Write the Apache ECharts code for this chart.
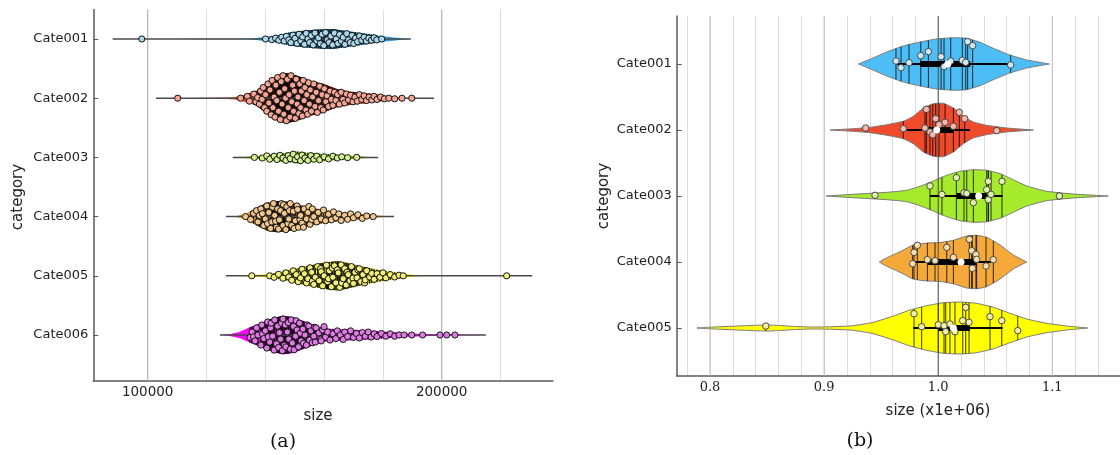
<!DOCTYPE html>
<html><head><meta charset="utf-8">
<script src="https://cdn.jsdelivr.net/npm/echarts@6/dist/echarts.min.js"></script>
<style>html,body{margin:0;padding:0;background:#fff}#c{width:1120px;height:455px}</style>
</head><body><div id="c"></div>
<script>
// ---------------- Panel (a) data (size in thousands) ----------------
const categoriesA = ['Cate001','Cate002','Cate003','Cate004','Cate005','Cate006'];
const tickLabelsA = [100, 200];
const gridTicksA = [100, 120, 140, 160, 180, 200, 220];
const majorLinesA = [100, 200];
const rangeA = [[88.1,189.5],[102.8,197.4],[128.9,178.4],[126.6,183.8],[126.6,230.8],[124.6,215.0]];
const violinA_pos = [
  [88.1,130,135.9,140.5,145.0,148.4,152.9,158.6,163.1,167.7,173.3,179.0,184.7,189.2],
  [102.8,129.1,133.7,137.1,139.3,142.2,145.0,147.3,150.7,155.2,159.7,164.3,168.8,173.3,177.9,182.4,189.2,197.4],
  [128.9,135.9,141.6,148.4,150.7,155.2,162.0,168.8,174.5,178.4],
  [126.6,130.3,133.7,137.1,140.5,143.9,147.3,150.7,155.2,159.7,164.3,168.8,173.3,177.9,183.8],
  [126.6,137.1,142.7,148.4,154.1,159.7,164.3,167.7,172.2,177.9,183.5,189.2,193.7,230.8],
  [124.6,128.0,131.4,134.8,137.5,139.3,142.7,146.1,149.5,154.1,159.7,166.5,173.3,180.1,188.1,199.4,215.0]
];
const violinA_width = [
  [0,0.004,0.012,0.039,0.068,0.113,0.140,0.164,0.169,0.135,0.096,0.056,0.022,0],
  [0,0.017,0.073,0.130,0.215,0.326,0.400,0.422,0.383,0.299,0.242,0.157,0.113,0.090,0.063,0.034,0.005,0],
  [0,0.022,0.051,0.084,0.101,0.073,0.051,0.034,0.012,0],
  [0,0.012,0.056,0.152,0.236,0.265,0.253,0.208,0.152,0.113,0.084,0.063,0.039,0.017,0],
  [0,0.017,0.039,0.096,0.164,0.220,0.248,0.220,0.164,0.106,0.063,0.022,0.005,0],
  [0,0.017,0.056,0.130,0.180,0.215,0.287,0.326,0.299,0.215,0.113,0.095,0.080,0.060,0.030,0.012,0]
];
const pointsA1 = [[98.0,0],[140.1,0],[142.2,0.01],[143.5,-0.015],[144.6,0.02],[145.6,-0.03],[146.4,0.035],[147.2,-0.045],[148.0,0.015],[148.7,0.06],[149.4,-0.065],[150.1,-0.01],[150.8,0.075],[151.5,-0.08],[152.1,0.03],[152.7,-0.035],[153.3,0.09],[153.9,-0.095],[154.5,0.0],[155.1,0.06],[155.7,-0.06],[156.3,0.1],[156.9,-0.1],[157.5,0.03],[158.1,-0.02],[158.7,0.08],[159.3,-0.08],[159.9,0.11],[160.5,-0.11],[161.1,0.015],[161.7,0.06],[162.3,-0.05],[162.9,0.1],[163.5,-0.1],[164.1,0.0],[164.7,0.075],[165.3,-0.075],[165.9,0.035],[166.5,-0.03],[167.1,0.09],[167.7,-0.09],[168.3,0.015],[168.9,0.06],[169.5,-0.06],[170.1,0.075],[170.7,-0.015],[171.4,0.045],[172.1,-0.05],[172.8,0.02],[173.6,-0.03],[174.4,0.035],[175.2,-0.015],[176.1,0.02],[177.0,-0.02],[177.9,0.015],[179.6,0]];
const pointsA2 = [[110.2,0],[131.6,0],[133.9,-0.03],[134.6,0.05],[136.1,-0.07],[136.8,0.06],[137.4,-0.01],[138.0,0.10],[138.4,-0.12],[138.9,0.02],[139.3,-0.18],[139.7,0.16],[140.1,-0.06],[140.5,0.22],[140.9,-0.24],[141.2,0.08],[141.6,-0.14],[142.0,0.28],[142.3,-0.3],[142.6,0.16],[143.0,-0.02],[143.3,0.32],[143.6,-0.22],[143.9,0.04],[144.2,-0.35],[144.5,0.22],[144.8,-0.1],[145.1,0.36],[145.4,-0.28],[145.7,0.1],[146.0,-0.38],[146.3,0.27],[146.6,-0.16],[146.9,0.0],[147.2,0.38],[147.5,-0.32],[147.8,0.16],[148.1,-0.06],[148.4,0.32],[148.7,-0.38],[149.0,0.06],[149.3,-0.22],[149.6,0.22],[149.9,-0.12],[150.2,0.34],[150.5,-0.32],[150.8,0.1],[151.1,-0.02],[151.4,0.26],[151.7,-0.24],[152.0,0.16],[152.3,-0.12],[152.6,0.3],[152.9,-0.3],[153.2,0.04],[153.5,-0.18],[153.8,0.2],[154.1,-0.06],[154.4,0.27],[154.7,-0.26],[155.0,0.1],[155.3,-0.14],[155.7,0.22],[156.1,-0.02],[156.5,-0.24],[156.9,0.14],[157.3,-0.1],[157.7,0.24],[158.1,0.04],[158.5,-0.2],[158.9,0.16],[159.3,-0.06],[159.7,0.2],[160.1,-0.16],[160.6,0.06],[161.0,-0.04],[161.5,0.14],[162.0,-0.12],[162.5,0.02],[163.0,0.12],[163.5,-0.1],[164.0,0.04],[164.6,-0.06],[165.2,0.1],[165.8,-0.1],[166.4,0.02],[167.0,0.08],[167.6,-0.07],[168.3,0.03],[169.0,-0.05],[169.8,0.06],[170.5,-0.02],[171.3,0.05],[172.0,-0.06],[172.8,0.02],[173.6,-0.04],[174.4,0.04],[175.3,-0.02],[176.2,0.03],[177.0,-0.03],[178.0,0.02],[179.2,-0.02],[180.5,0.01],[182.0,0],[184.0,0.01],[186.5,0],[189.8,0]];
const pointsA3 = [[136.3,0],[139,0.01],[140.5,-0.025],[141.5,0.03],[143,-0.02],[144,0.035],[145,-0.035],[146,0.01],[147,0.05],[147.8,-0.03],[148.5,0.02],[149.5,-0.055],[150.2,0.04],[151,-0.01],[152,0.055],[152.5,-0.04],[153.5,0.01],[154.5,0.05],[155.5,-0.03],[156.5,0.03],[157.5,-0.02],[158.5,0.04],[160,-0.01],[161.5,0.025],[163,-0.02],[164.5,0.01],[166,-0.01],[168,0.005],[171.1,0]];
const pointsA4 = [[133.3,0],[135,0.05],[136,-0.055],[137,-0.1],[137.5,0.09],[138,-0.02],[138.5,-0.13],[139,-0.05],[139.5,0.15],[140,0.04],[140.5,-0.18],[140.8,0.12],[141.2,-0.07],[141.8,0.2],[142.2,0.09],[142.5,-0.16],[142.8,-0.22],[143.2,-0.02],[143.5,0.08],[143.8,0.18],[144.2,-0.13],[144.5,0.21],[144.8,0.055],[145.2,-0.1],[145.5,-0.22],[146,0.15],[146.2,-0.2],[146.5,-0.055],[147,0.22],[147.3,-0.165],[147.7,0.12],[148,0.04],[148.2,-0.1],[148.5,-0.22],[149,0.15],[149.5,-0.09],[149.8,0.2],[150.2,0.07],[150.8,-0.18],[151,-0.12],[151.3,0.18],[151.8,0.05],[152,-0.02],[152.5,0.11],[153,0.18],[153.2,-0.13],[154,0.04],[154.5,-0.07],[154.8,-0.17],[155.2,0.13],[155.8,0.05],[156,-0.13],[156.5,0.0],[157.5,0.09],[158,-0.07],[159,0.04],[159.8,-0.11],[160.5,0.07],[161.5,-0.04],[162.5,0.055],[163.2,-0.08],[164,0.02],[165,-0.045],[165.8,0.065],[167,-0.02],[168,0.045],[169,-0.045],[170,0.02],[171.5,-0.03],[173,0.03],[174.5,-0.01],[176.7,0]];
const pointsA5 = [[135.4,0],[141.5,0.0],[143,0.025],[144.5,-0.025],[146,0.04],[147,-0.05],[148,0.02],[149,0.075],[149.5,-0.085],[150.5,-0.02],[151.2,0.1],[152,0.035],[152.5,-0.11],[153.3,-0.035],[154,0.12],[154.5,0.05],[155.2,-0.135],[155.8,-0.06],[156,0.09],[156.5,0.145],[157,0.025],[157.8,-0.155],[158.3,0.085],[158.8,-0.12],[159,-0.07],[159.5,0.17],[160,0.0],[160.8,-0.18],[161.2,0.1],[161.5,0.05],[161.8,-0.085],[162.5,0.185],[162.8,-0.13],[163,0.025],[163.5,-0.17],[164,0.12],[164.5,-0.1],[164.8,-0.05],[165.3,0.195],[165.8,-0.185],[166,0.12],[166.5,0.05],[167,-0.12],[167.5,0.155],[167.8,-0.06],[168.2,-0.02],[168.8,0.085],[169.3,-0.155],[169.8,0.04],[170,0.13],[170.5,-0.06],[171.2,0.035],[171.5,-0.1],[172,-0.12],[172.5,0.1],[173.2,-0.02],[173.8,0.12],[174,0.07],[174.5,-0.085],[175.5,0.02],[176.2,-0.04],[177,0.06],[178,-0.035],[179,0.025],[180,-0.05],[181,0.035],[182.5,-0.02],[184,0.02],[185.5,-0.01],[186.9,0],[222.1,0]];
const pointsA6 = [[134.8,0.04],[135.5,-0.05],[136,0.03],[136.5,0.1],[137,-0.12],[137.5,0.0],[138.5,0.17],[138.8,-0.17],[139,-0.02],[139.5,0.06],[140,-0.07],[140.5,0.22],[140.8,-0.22],[141,0.03],[141.5,0.12],[141.8,-0.12],[142,-0.2],[142.5,0.02],[143,0.255],[143.2,-0.255],[143.8,0.15],[144.2,-0.15],[144.5,0.21],[144.8,-0.04],[145.2,0.07],[145.5,-0.2],[145.8,0.265],[146,-0.27],[146.5,0.17],[146.8,-0.17],[147,0.2],[147.5,-0.05],[147.8,-0.21],[148,0.07],[148.5,0.24],[148.8,-0.255],[149.2,0.135],[149.6,-0.145],[149.8,0.25],[150.3,0.02],[150.5,-0.24],[150.8,-0.085],[151.3,0.2],[151.6,-0.2],[151.9,-0.03],[152.2,0.1],[152.8,-0.1],[153,0.14],[153.5,0.0],[154,0.17],[154.3,-0.17],[154.8,-0.15],[155,0.085],[155.5,-0.07],[156,0.13],[156.5,0.02],[156.8,-0.13],[157,0.12],[157.3,-0.12],[158.2,-0.035],[158.8,0.07],[159,0.1],[159.5,-0.085],[160,-0.14],[160.5,0.035],[161.2,-0.05],[162,0.085],[163,-0.02],[164,0.06],[164.5,-0.07],[165.5,0.0],[166.5,0.075],[167,-0.05],[168,0.025],[169,-0.07],[170,0.04],[171,-0.025],[172,0.05],[173,-0.04],[174,0.02],[175,-0.05],[176,0.035],[177,-0.02],[178,0.025],[179.5,-0.025],[181,0.02],[182.5,-0.02],[184,0.02],[185.5,0],[187.2,0],[189.8,0],[193.5,0],[199.4,0],[201.7,0],[204.5,0]];
const pointsA = [pointsA1, pointsA2, pointsA3, pointsA4, pointsA5, pointsA6];

// ---------------- Panel (b) data (size x1e+06) ----------------
const categoriesB = ['Cate001','Cate002','Cate003','Cate004','Cate005'];
const tickLabelsB = [0.8, 0.9, 1.0, 1.1];
const gridTicksB = [0.78,0.80,0.82,0.84,0.86,0.88,0.90,0.92,0.94,0.96,0.98,1.00,1.02,1.04,1.06,1.08,1.10,1.12,1.14,1.16];
const mediumLinesB = [0.8, 0.9, 1.1];
const darkLinesB = [1.0];
const violinB_pos = [
  [0.9300,0.9402,0.9549,0.9694,0.9840,0.9987,1.0133,1.0250,1.0366,1.0483,1.0629,1.0776,1.0974],
  [0.9052,0.9256,0.9402,0.9549,0.9694,0.9782,0.9870,0.9957,1.0045,1.0133,1.0220,1.0308,1.0425,1.0600,1.0834],
  [0.9017,0.9256,0.9549,0.9724,0.9840,0.9957,1.0075,1.0191,1.0308,1.0425,1.0542,1.0658,1.0776,1.0951,1.1184,1.1491],
  [0.9484,0.9549,0.9665,0.9782,0.9899,1.0016,1.0133,1.0250,1.0337,1.0425,1.0542,1.0658,1.0776],
  [0.7886,0.80,0.82,0.84,0.85,0.86,0.875,0.89,0.9056,0.9256,0.9431,0.9607,0.9753,0.9899,1.0045,1.0191,1.0337,1.0483,1.0629,1.0776,1.0951,1.1126,1.1310]
];
const violinB_width = [
  [0,0.071,0.182,0.273,0.333,0.379,0.398,0.389,0.329,0.238,0.136,0.061,0],
  [0,0.020,0.041,0.080,0.132,0.208,0.333,0.398,0.405,0.333,0.208,0.121,0.071,0.030,0],
  [0,0.026,0.056,0.086,0.147,0.227,0.314,0.374,0.398,0.389,0.338,0.247,0.152,0.071,0.030,0],
  [0,0.065,0.156,0.258,0.288,0.295,0.329,0.394,0.405,0.374,0.258,0.106,0],
  [0,0.012,0.027,0.042,0.045,0.039,0.023,0.014,0.018,0.035,0.086,0.182,0.273,0.338,0.383,0.394,0.374,0.314,0.223,0.136,0.071,0.030,0]
];
// [whisker low, q1, median, q3, whisker high]
const boxB = [
  [0.9636,0.9840,1.0084,1.0280,1.0634],
  [0.9694,0.9899,0.9987,1.0133,1.0278],
  [0.9928,1.0162,1.0355,1.0425,1.0565],
  [0.9776,0.9905,1.0200,1.0337,1.0489],
  [0.9782,1.0001,1.0133,1.0279,1.0565]
];
const pointsB1 = [[0.9630,-0.045],[0.9674,0.056],[0.9744,-0.02],[0.9847,-0.126],[0.9914,-0.187],[1.0025,-0.111],[1.0051,0.04],[1.0110,-0.045],[1.0211,-0.056],[1.0241,-0.025],[1.0258,-0.338],[1.0302,-0.278],[1.0635,0.015]];
const pointsB2 = [[0.9364,-0.03],[0.9694,-0.02],[0.9884,-0.03],[0.9896,-0.313],[0.9928,0.03],[0.9952,0.071],[0.9978,-0.172],[1.0007,-0.081],[1.0060,-0.116],[1.0133,-0.056],[1.0185,-0.268],[1.0232,-0.172],[1.0513,0.01]];
const pointsB3 = [[0.9446,-0.01],[0.9928,-0.152],[1.0033,-0.025],[1.0159,-0.278],[1.0226,-0.05],[1.0250,-0.04],[1.0308,0.101],[1.0425,-0.096],[1.0439,-0.222],[1.0439,0.056],[1.0463,-0.025],[1.0559,-0.222],[1.1062,0]];
const pointsB4 = [[0.9776,0.025],[0.9788,-0.146],[0.9817,-0.253],[0.9905,-0.035],[0.9972,-0.02],[1.0075,-0.222],[1.0133,-0.071],[1.0273,-0.343],[1.0293,-0.172],[1.0299,0.096],[1.0331,-0.116],[1.0337,-0.04],[1.0419,0.061],[1.0483,-0.035]];
const pointsB5 = [[0.8489,-0.03],[0.9788,-0.217],[0.9855,-0.02],[1.0001,-0.05],[1.0051,-0.035],[1.0066,0.056],[1.0103,-0.061],[1.0147,0.056],[1.0215,-0.111],[1.0241,-0.313],[1.0270,-0.086],[1.0454,-0.172],[1.0557,-0.111],[1.0697,0.04]];
const pointsB = [pointsB1, pointsB2, pointsB3, pointsB4, pointsB5];

// ---------------- styles ----------------
const violinFillA = ['#2f9ed8','#ee3b22','#93d62a','#ef9f1f','#e6e600','#ff00ff'];
const pointFillA = ['#a9d8ec','#f4a595','#d3f08e','#f0c78e','#f2f07a','#e07be6'];
const violinFillB = ['#4dbef5','#ef4a2c','#a5ea2b','#f4a93a','#ffff00'];
const pointFillB = ['#cfe9f3','#f4b9aa','#e2f2ae','#f3deb0','#f4f0a2'];

const AX = {xMin:81.5, xMax:237.86, yMin:0.5, yMax:6.772};
const BX = {xMin:0.7708, xMax:1.1652, yMin:0.273, yMax:5.727};
const SANS = 'DejaVu Sans';
const SERIF = 'DejaVu Serif';
const AXIS_COLOR = '#5a5a5a';

function widthAt(vs, ws, v) {
  if (v <= vs[0]) return ws[0];
  for (let k = 0; k < vs.length - 1; k++) {
    if (v <= vs[k+1]) return ws[k] + (ws[k+1]-ws[k]) * (v - vs[k]) / (vs[k+1]-vs[k]);
  }
  return ws[ws.length-1];
}
function violinRender(pos, wid, fills, stroke, lw) {
  return function (params, api) {
    const i = params.dataIndex, c = i + 1;
    const vs = pos[i], ws = wid[i], pts = [];
    for (let k = 0; k < vs.length; k++) pts.push(api.coord([vs[k], c - ws[k]]));
    for (let k = vs.length - 1; k >= 0; k--) pts.push(api.coord([vs[k], c + ws[k]]));
    return {type:'polygon', shape:{points:pts, smooth:0.15},
      style:{fill:fills[i], stroke:stroke || 'none', lineWidth:lw || 0}};
  };
}
function rugRender(points, pos, wid, color, lw) {
  return function (params, api) {
    const i = params.dataIndex, c = i + 1;
    const children = points[i].map(function (p) {
      const w = widthAt(pos[i], wid[i], p[0]);
      const a = api.coord([p[0], c - w]), b = api.coord([p[0], c + w]);
      return {type:'line', shape:{x1:a[0], y1:a[1], x2:b[0], y2:b[1]}, style:{stroke:color, lineWidth:lw}};
    });
    return {type:'group', children:children};
  };
}
function whiskerRender(range, color, lw) {
  return function (params, api) {
    const i = params.dataIndex, c = i + 1;
    const a = api.coord([range[i][0], c]), b = api.coord([range[i][1], c]);
    return {type:'line', shape:{x1:a[0], y1:a[1], x2:b[0], y2:b[1]}, style:{stroke:color, lineWidth:lw}};
  };
}
function boxRender(params, api) {
  const i = params.dataIndex, c = i + 1;
  const q = boxB[i];
  const a = api.coord([q[0], c]), b = api.coord([q[4], c]);
  const r1 = api.coord([q[1], c]), r2 = api.coord([q[3], c]);
  return {type:'group', children:[
    {type:'line', shape:{x1:a[0], y1:a[1], x2:b[0], y2:b[1]}, style:{stroke:'#000', lineWidth:2}},
    {type:'rect', shape:{x:r1[0], y:r1[1]-3, width:r2[0]-r1[0], height:6}, style:{fill:'#000'}}
  ]};
}
function refLineRender(yMin, yMax, color, lw) {
  return function (params, api) {
    const v = api.value(0);
    const a = api.coord([v, yMin]), b = api.coord([v, yMax]);
    return {type:'line', shape:{x1:a[0], y1:a[1], x2:b[0], y2:b[1]}, style:{stroke:color, lineWidth:lw}};
  };
}

const series = [];
// Panel (a)
series.push({type:'custom', xAxisIndex:0, yAxisIndex:0, z:1, silent:true, data:majorLinesA.map(v=>[v]), renderItem:refLineRender(AX.yMin, AX.yMax, '#b4b4b4', 1.2)});
series.push({type:'custom', xAxisIndex:0, yAxisIndex:0, z:2, silent:true, data:categoriesA.map((n,i)=>[i+1]), renderItem:violinRender(violinA_pos, violinA_width, violinFillA)});
series.push({type:'custom', xAxisIndex:0, yAxisIndex:0, z:3, silent:true, data:categoriesA.map((n,i)=>[i+1]), renderItem:rugRender(pointsA, violinA_pos, violinA_width, 'rgba(0,0,0,0.9)', 1.3)});
series.push({type:'custom', xAxisIndex:0, yAxisIndex:0, z:4, silent:true, data:categoriesA.map((n,i)=>[i+1]), renderItem:whiskerRender(rangeA, '#4a4a4a', 1.5)});
categoriesA.forEach(function (n, i) {
  series.push({type:'scatter', name:n, xAxisIndex:0, yAxisIndex:0, z:5, silent:true, symbol:'circle', symbolSize:6.2,
    itemStyle:{color:pointFillA[i], borderColor:'#141414', borderWidth:1, opacity:1},
    data:pointsA[i].map(p => [p[0], i + 1 + p[1]])});
});
// Panel (b)
series.push({type:'custom', xAxisIndex:1, yAxisIndex:1, z:1, silent:true, data:mediumLinesB.map(v=>[v]), renderItem:refLineRender(BX.yMin, BX.yMax, '#bdbdbd', 1)});
series.push({type:'custom', xAxisIndex:1, yAxisIndex:1, z:2, silent:true, data:categoriesB.map((n,i)=>[i+1]), renderItem:violinRender(violinB_pos, violinB_width, violinFillB, '#7a7a7a', 1)});
series.push({type:'custom', xAxisIndex:1, yAxisIndex:1, z:3, silent:true, data:categoriesB.map((n,i)=>[i+1]), renderItem:rugRender(pointsB, violinB_pos, violinB_width, 'rgba(0,0,0,0.78)', 1)});
series.push({type:'custom', xAxisIndex:1, yAxisIndex:1, z:3, silent:true, data:darkLinesB.map(v=>[v]), renderItem:refLineRender(BX.yMin, BX.yMax, '#4a4a4a', 1)});
series.push({type:'custom', xAxisIndex:1, yAxisIndex:1, z:4, silent:true, data:categoriesB.map((n,i)=>[i+1]), renderItem:boxRender});
categoriesB.forEach(function (n, i) {
  series.push({type:'scatter', name:n, xAxisIndex:1, yAxisIndex:1, z:5, silent:true, symbol:'circle', symbolSize:6.5,
    itemStyle:{color:pointFillB[i], borderColor:'#4a4a4a', borderWidth:1, opacity:1},
    data:pointsB[i].map(p => [p[0], i + 1 + p[1]])});
});
series.push({type:'scatter', xAxisIndex:1, yAxisIndex:1, z:6, silent:true, symbol:'circle', symbolSize:7,
  itemStyle:{color:'#ffffff', borderWidth:0, opacity:1},
  data:boxB.map((q,i) => [q[2], i + 1])});

function xAxisCfg(gridIndex, mn, mx, ticks, labels, fmt, font, fsize) {
  return {type:'value', gridIndex:gridIndex, min:mn, max:mx, position:'bottom',
    axisLine:{show:true, onZero:false, lineStyle:{color:AXIS_COLOR, width:1.5}},
    axisTick:{show:false, customValues:ticks},
    axisLabel:{show:true, customValues:labels, formatter:fmt, margin:5, color:'#222', fontFamily:font, fontSize:fsize},
    splitLine:{show:true, lineStyle:{color:'#dedede', width:1}},
    minorTick:{show:false}, minorSplitLine:{show:false}};
}
function yAxisCfg(gridIndex, mn, mx, cats) {
  return {type:'value', gridIndex:gridIndex, min:mn, max:mx, inverse:true, position:'left',
    axisLine:{show:true, onZero:false, lineStyle:{color:AXIS_COLOR, width:1.5}},
    axisTick:{show:true, inside:true, length:5, customValues:cats.map((n,i)=>i+1), lineStyle:{color:AXIS_COLOR, width:1}},
    axisLabel:{show:true, customValues:cats.map((n,i)=>i+1), formatter:v => cats[Math.round(v)-1] || '', margin:5, color:'#1e1e1e', fontFamily:SANS, fontSize:13},
    splitLine:{show:false}};
}

const option = {
  animation:false,
  backgroundColor:'#ffffff',
  grid:[
    {left:93.3, top:9.4, width:459.7, height:371.3, containLabel:false, outerBoundsMode:'none'},
    {left:676.7, top:16, width:450, height:360, containLabel:false, outerBoundsMode:'none'}
  ],
  xAxis:[
    xAxisCfg(0, AX.xMin, AX.xMax, gridTicksA, tickLabelsA, v => String(Math.round(v*1000)), SANS, 13.5),
    xAxisCfg(1, BX.xMin, BX.xMax, gridTicksB, tickLabelsB, v => v.toFixed(1), SERIF, 13)
  ],
  yAxis:[
    yAxisCfg(0, AX.yMin, AX.yMax, categoriesA),
    yAxisCfg(1, BX.yMin, BX.yMax, categoriesB)
  ],
  graphic:[
    {type:'text', x:18, y:197, rotation:Math.PI/2, silent:true, style:{text:'category', fontSize:15, fontFamily:SANS, fill:'#222', align:'center', verticalAlign:'middle', textAlign:'center', textVerticalAlign:'middle'}},
    {type:'text', x:318, y:416, silent:true, style:{text:'size', fontSize:15, fontFamily:SANS, fill:'#222', align:'center', verticalAlign:'middle', textAlign:'center', textVerticalAlign:'middle'}},
    {type:'text', x:283, y:442, silent:true, style:{text:'(a)', fontSize:19, fontFamily:SERIF, fill:'#111', align:'center', verticalAlign:'middle', textAlign:'center', textVerticalAlign:'middle'}},
    {type:'text', x:604, y:196, rotation:Math.PI/2, silent:true, style:{text:'category', fontSize:15, fontFamily:SANS, fill:'#222', align:'center', verticalAlign:'middle', textAlign:'center', textVerticalAlign:'middle'}},
    {type:'text', x:938, y:411, silent:true, style:{text:'size (x1e+06)', fontSize:15, fontFamily:SANS, fill:'#222', align:'center', verticalAlign:'middle', textAlign:'center', textVerticalAlign:'middle'}},
    {type:'text', x:860, y:441, silent:true, style:{text:'(b)', fontSize:19, fontFamily:SERIF, fill:'#111', align:'center', verticalAlign:'middle', textAlign:'center', textVerticalAlign:'middle'}}
  ],
  series:series
};
const chart = echarts.init(document.getElementById('c'), null, {renderer:'canvas'});
chart.setOption(option);
</script></body></html>
